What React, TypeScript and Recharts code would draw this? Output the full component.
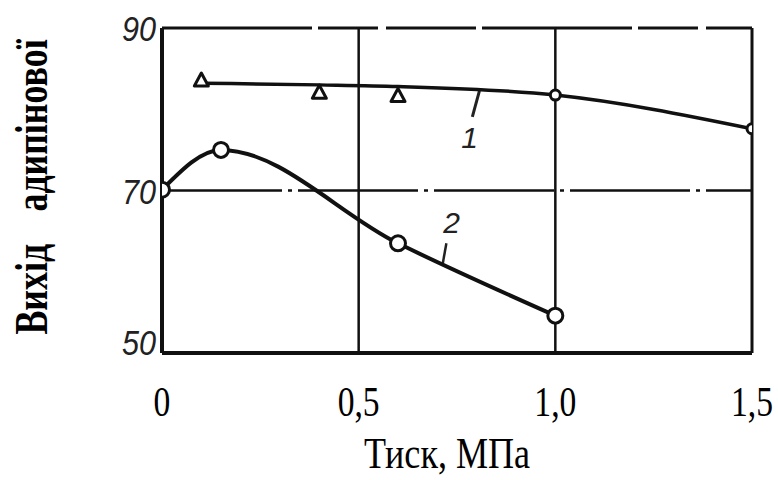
import React from 'react';
import {
    ComposedChart, Line, Scatter, XAxis, YAxis, ReferenceLine, ReferenceDot,
} from 'recharts';

// крива 1 (трикутники)
const pressure1 = [0.1, 0.4, 0.6, 1.0, 1.5];
const yield1Curve = [83.2, 83.0, 82.8, 81.75, 77.6];
const yield1Marks = [83.6, 82.1, 81.7, 81.75, 77.6];
const marker1 = ['tri', 'tri', 'tri', 'circle', 'circle'];

// крива 2 (кружки)
const pressure2 = [0, 0.15, 0.6, 1.0];
const yield2 = [70.1, 75.0, 63.5, 54.6];

const xTicks = [0, 0.5, 1.0, 1.5];
const xTickLabels = ['0', '0,5', '1,0', '1,5'];
const yTicks = [50, 70, 90];

const curve1 = pressure1.map((x, i) => ({ x, y: yield1Curve[i] }));
const marks1 = pressure1.map((x, i) => ({ x, y: yield1Marks[i], kind: marker1[i] }));
const curve2 = pressure2.map((x, i) => ({ x, y: yield2[i] }));

const XTick = (props: any) => {
    const { x, y, payload } = props;
    const idx = xTicks.indexOf(payload.value);
    return (
        <text transform={`translate(${x},${y + 55}) scale(0.8,1)`} textAnchor="middle"
            fontFamily="'Liberation Serif', serif" fontSize={42} fill="#000">
            {xTickLabels[idx]}
        </text>
    );
};

const YTick = (props: any) => {
    const { x, y, payload } = props;
    const cy = Math.min(y, 342);
    return (
        <text transform={`translate(${x + 2},${cy + 13}) scale(0.85,1)`} textAnchor="end"
            fontFamily="'Liberation Sans', sans-serif" fontStyle="italic" fontSize={36} fill="#222">
            {payload.value}
        </text>
    );
};

const Marker = (props: any) => {
    const { cx, cy, payload } = props;
    if (payload.kind === 'tri') {
        return (
            <polygon points={`${cx},${cy - 7} ${cx - 7},${cy + 6} ${cx + 7},${cy + 6}`}
                fill="#fff" stroke="#111" strokeWidth={3} strokeLinejoin="round" />
        );
    }
    return <circle cx={cx} cy={cy} r={5} fill="#fff" stroke="#111" strokeWidth={3} />;
};

const Circle2 = (props: any) => {
    const { cx, cy } = props;
    return <circle cx={cx} cy={cy} r={7.5} fill="#fff" stroke="#111" strokeWidth={3} />;
};

const annotation = (txt: string) => (p: any) => (
    <text x={p.cx} y={p.cy} textAnchor="middle" dominantBaseline="central"
        fontFamily="'Liberation Sans', sans-serif" fontStyle="italic" fontSize={30} fill="#222">
        {txt}
    </text>
);

export default function App() {
    return (
        <div style={{ width: 778, height: 480, background: '#fff' }}>
            <style>{'body{margin:0}'}</style>
            <ComposedChart width={778} height={480} margin={{ top: 28, right: 26, bottom: 0, left: 0 }}>
                <XAxis dataKey="x" type="number" domain={[0, 1.5]} ticks={xTicks}
                    axisLine={{ stroke: '#111', strokeWidth: 4 }} tickLine={false} height={127}
                    tick={<XTick />} allowDataOverflow
                    label={{
                        content: () => (
                            <text transform="translate(447,468) scale(0.82,1)" textAnchor="middle"
                                fontFamily="'Liberation Serif', serif" fontSize={44} fill="#000">
                                Тиск, МПа
                            </text>
                        ),
                    }} />
                <YAxis type="number" domain={[50, 90]} ticks={yTicks} width={162}
                    axisLine={{ stroke: '#111', strokeWidth: 4 }} tickLine={false}
                    tick={<YTick />} allowDataOverflow
                    label={{
                        content: () => (
                            <text transform="translate(47,187) rotate(-90) scale(0.78,1)" textAnchor="middle"
                                fontFamily="'Liberation Serif', serif" fontWeight="bold" fontSize={46}
                                fill="#000" wordSpacing={30}>
                                Вихід адипінової
                            </text>
                        ),
                    }} />

                {/* сітка */}
                <ReferenceLine y={90} stroke="#111" strokeWidth={3} strokeDasharray="150 6 60 8 90 6" />
                <ReferenceLine y={70} stroke="#111" strokeWidth={2.5} strokeDasharray="120 6 4 6" />
                <ReferenceLine x={0.5} stroke="#111" strokeWidth={2.5} />
                <ReferenceLine x={1.0} stroke="#111" strokeWidth={2.5} />
                <ReferenceLine x={1.5} stroke="#111" strokeWidth={3} />

                {/* підписи кривих */}
                <ReferenceLine segment={[{ x: 0.807, y: 82.25 }, { x: 0.789, y: 79.05 }]} stroke="#222" strokeWidth={3} />
                <ReferenceDot x={0.782} y={76.5} r={0} shape={annotation('1')} />
                <ReferenceLine segment={[{ x: 0.723, y: 63.5 }, { x: 0.713, y: 60.8 }]} stroke="#222" strokeWidth={2.5} />
                <ReferenceDot x={0.736} y={66.1} r={0} shape={annotation('2')} />

                <Line data={curve1} dataKey="y" type="monotone" stroke="#111" strokeWidth={3.5}
                    dot={false} activeDot={false} isAnimationActive={false} />
                <Line data={curve2} dataKey="y" type="monotone" stroke="#111" strokeWidth={4}
                    dot={<Circle2 />} activeDot={false} isAnimationActive={false} />
                <Scatter data={marks1} dataKey="y" shape={<Marker />} isAnimationActive={false} />
            </ComposedChart>
        </div>
    );
}
